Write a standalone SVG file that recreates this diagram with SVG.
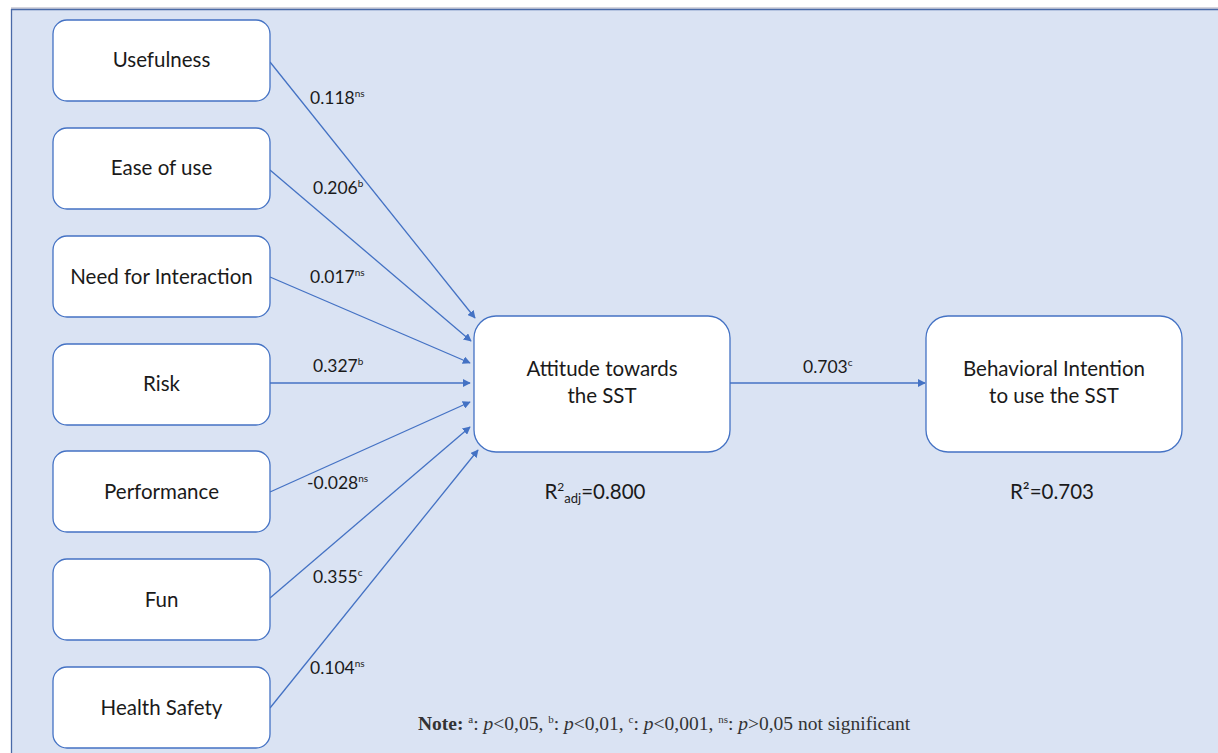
<svg xmlns="http://www.w3.org/2000/svg" width="1218" height="753" viewBox="0 0 1218 753">
<style>
.box{fill:#fff;stroke:#4472C4;stroke-width:1.3}
.t{font-family:Lato,"Open Sans",sans-serif;font-size:20.5px;fill:#1a1a1a;text-anchor:middle}
.l{font-family:Lato,"Open Sans",sans-serif;font-size:17.5px;fill:#1a1a1a}
.s{font-size:10px}
.c{stroke:#4472C4;stroke-width:1.3;fill:none;marker-end:url(#ah)}
.n{font-family:"Liberation Serif",serif;font-size:19.5px;fill:#333}
</style>
<defs>
<marker id="ah" viewBox="0 0 10 10" refX="9" refY="5" markerWidth="8" markerHeight="8" markerUnits="userSpaceOnUse" orient="auto">
<path d="M0,0 L10,5 L0,10 z" fill="#4472C4"/>
</marker>
</defs>
<rect x="0" y="0" width="1218" height="753" fill="#fff"/>
<rect x="11" y="9" width="1210" height="750" fill="#DAE3F3"/>
<line x1="11" y1="8" x2="1218" y2="8" stroke="#aab" stroke-width="1"/>
<line x1="11" y1="9.5" x2="1218" y2="9.5" stroke="#4a6aa8" stroke-width="1.5"/>
<line x1="11.5" y1="9" x2="11.5" y2="753" stroke="#4a6aa8" stroke-width="1.3"/>
<g id="connectors">
<line class="c" x1="270" y1="62" x2="475" y2="318"/>
<line class="c" x1="270" y1="170" x2="471" y2="341"/>
<line class="c" x1="270" y1="277" x2="470" y2="363"/>
<line class="c" x1="270" y1="383" x2="470" y2="383"/>
<line class="c" x1="270" y1="492" x2="470" y2="402"/>
<line class="c" x1="270" y1="598" x2="470" y2="427"/>
<line class="c" x1="270" y1="708" x2="478" y2="450"/>
<line class="c" x1="730" y1="383" x2="925" y2="383"/>
</g>
<g id="labels">
<text class="l" x="310" y="104">0.118<tspan class="s" dy="-7">ns</tspan></text>
<text class="l" x="313" y="194">0.206<tspan class="s" dy="-7">b</tspan></text>
<text class="l" x="310" y="283">0.017<tspan class="s" dy="-7">ns</tspan></text>
<text class="l" x="313" y="372">0.327<tspan class="s" dy="-7">b</tspan></text>
<text class="l" x="307" y="489">-0.028<tspan class="s" dy="-7">ns</tspan></text>
<text class="l" x="313" y="583">0.355<tspan class="s" dy="-7">c</tspan></text>
<text class="l" x="310" y="674">0.104<tspan class="s" dy="-7">ns</tspan></text>
<text class="l" x="803" y="373">0.703<tspan class="s" dy="-7">c</tspan></text>
</g>
<g id="usefulness"><rect class="box" x="53" y="20" width="217" height="81" rx="14"/><text class="t" x="161.5" y="67">Usefulness</text></g>
<g id="ease"><rect class="box" x="53" y="128" width="217" height="81" rx="14"/><text class="t" x="161.5" y="175">Ease of use</text></g>
<g id="nfi"><rect class="box" x="53" y="236" width="217" height="81" rx="14"/><text class="t" x="161.5" y="284">Need for Interaction</text></g>
<g id="risk"><rect class="box" x="53" y="344" width="217" height="81" rx="14"/><text class="t" x="161.5" y="391">Risk</text></g>
<g id="performance"><rect class="box" x="53" y="451" width="217" height="81" rx="14"/><text class="t" x="161.5" y="499">Performance</text></g>
<g id="fun"><rect class="box" x="53" y="559" width="217" height="81" rx="14"/><text class="t" x="161.5" y="607">Fun</text></g>
<g id="health"><rect class="box" x="53" y="667" width="217" height="81" rx="14"/><text class="t" x="161.5" y="715">Health Safety</text></g>
<g id="attitude"><rect class="box" x="474" y="316" width="256" height="136" rx="22"/><text class="t" x="602" y="376">Attitude towards</text><text class="t" x="602" y="403">the SST</text></g>
<g id="intention"><rect class="box" x="926" y="316" width="256" height="136" rx="22"/><text class="t" x="1054" y="376">Behavioral Intention</text><text class="t" x="1054" y="403">to use the SST</text></g>
<text class="t" x="595" y="499">R<tspan font-size="12" dy="-8">2</tspan><tspan font-size="13" dy="12">adj</tspan><tspan dy="-4">=0.800</tspan></text>
<text class="t" x="1052" y="499">R²=0.703</text>
<text class="n" x="418" y="730"><tspan font-weight="bold">Note:</tspan> <tspan font-size="11" dy="-7">a</tspan><tspan dy="7">: </tspan><tspan font-style="italic">p</tspan>&lt;0,05, <tspan font-size="11" dy="-7">b</tspan><tspan dy="7">: </tspan><tspan font-style="italic">p</tspan>&lt;0,01, <tspan font-size="11" dy="-7">c</tspan><tspan dy="7">: </tspan><tspan font-style="italic">p</tspan>&lt;0,001, <tspan font-size="11" dy="-7">ns</tspan><tspan dy="7">: </tspan><tspan font-style="italic">p</tspan>&gt;0,05 not significant</text>
</svg>
